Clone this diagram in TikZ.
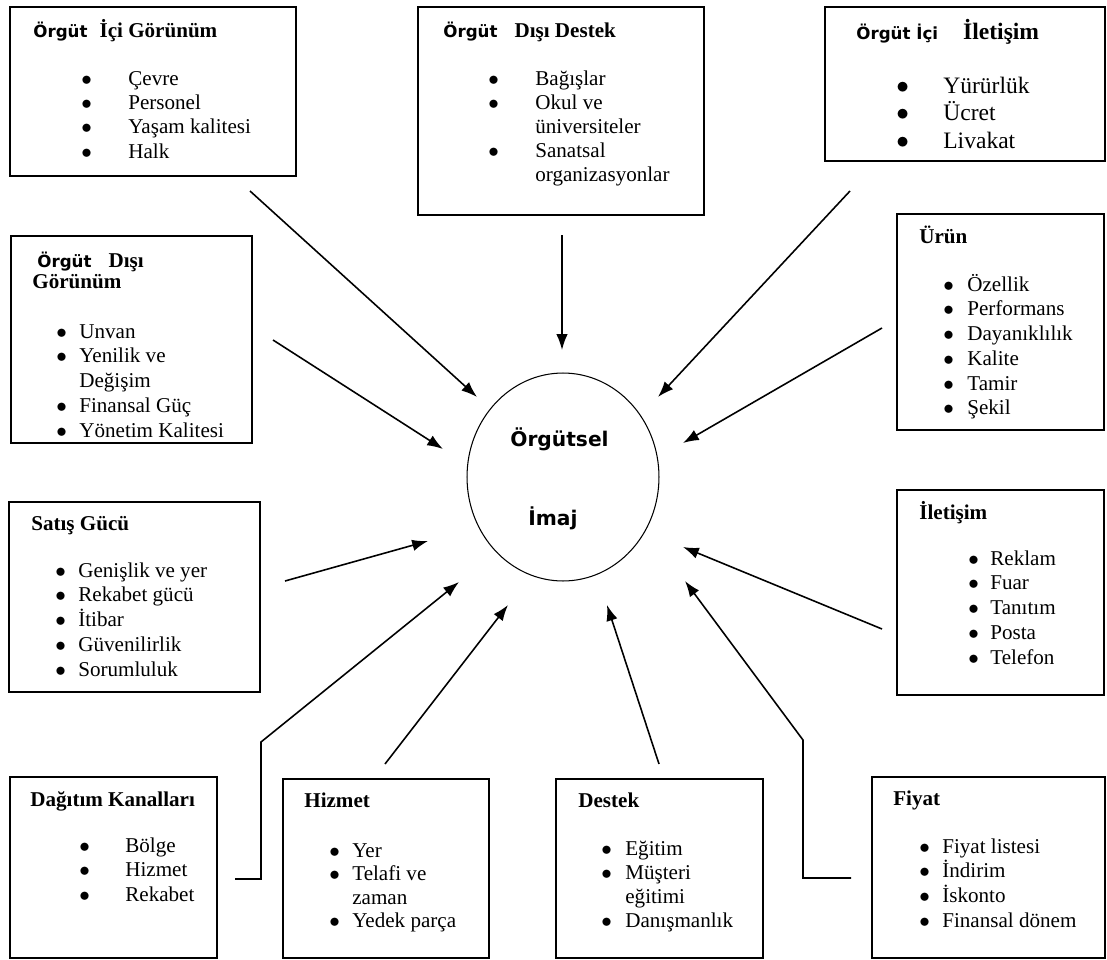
\documentclass[tikz,border=0pt]{standalone}
\usepackage{fontspec}
\setmainfont{Liberation Serif}
\newfontfamily\orgfont{DejaVu Sans}
\usepackage{tikz}
\usetikzlibrary{shapes.geometric, arrows.meta, positioning, fit}

\newcommand{\org}[1]{{\orgfont\bfseries\fontsize{9.5}{11}\selectfont #1}}
\newcommand{\blist}[2]{\begin{tabular}[t]{@{}p{#1}@{}l@{}}#2\end{tabular}}
\newcommand{\bl}{$\bullet$}

\begin{document}
\begin{tikzpicture}[x=0.02cm, y=-0.02cm,
        box/.style={draw, rectangle, line width=1.5pt, inner sep=0pt},
        head/.style={anchor=base west, inner sep=0pt, font=\bfseries\fontsize{12}{14}\selectfont},
        items/.style={anchor=base west, inner sep=0pt, font=\fontsize{12}{14.2}\selectfont},
        imgtxt/.style={anchor=base west, inner sep=0pt, font=\orgfont\bfseries\fontsize{11.5}{13}\selectfont},
        line/.style={draw, line width=0.9pt, -{Latex[length=9pt, width=6.5pt]}}]

        \useasboundingbox (0,0) rectangle (1107,960);

        % centre
        \node [draw, ellipse, line width=0.6pt, inner sep=0pt, minimum width=3.84cm, minimum height=4.16cm] (imaj) at (563,477) {};
        \node [imgtxt] (imajT1) at (510,446) {Örgütsel};
        \node [imgtxt] (imajT2) at (528,525) {İmaj};

        % top row
        \node [head] (icgorT) at (33,37) {\org{Örgüt}\hspace{0.24cm}İçi Görünüm};
        \node [items, font=\fontsize{12}{13.9}\selectfont] (icgorL) at (81,85) {\blist{0.94cm}{
            \bl & Çevre\\ \bl & Personel\\ \bl & Yaşam kalitesi\\ \bl & Halk}};
        \node [box, fit={(10,7) (296,176)}] (icgor) {};

        \node [head] (disdesT) at (443,37) {\org{Örgüt}\hspace{0.34cm}Dışı Destek};
        \node [items, font=\fontsize{12}{13.7}\selectfont] (disdesL) at (488,85) {\blist{0.94cm}{
            \bl & Bağışlar\\ \bl & Okul ve\\ & üniversiteler\\ \bl & Sanatsal\\ & organizasyonlar}};
        \node [box, fit={(418,7) (704,215)}] (disdes) {};

        \node [head, font=\bfseries\fontsize{13.4}{16}\selectfont] (iciletT) at (856,39) {\org{Örgüt İçi}\hspace{0.5cm}İletişim};
        \node [items, font=\fontsize{13.4}{15.9}\selectfont] (iciletL) at (896,93) {\blist{0.94cm}{
            \bl & Yürürlük\\ \bl & Ücret\\ \bl & Livakat}};
        \node [box, fit={(825,7) (1105,161)}] (icilet) {};

        % sides
        \node [head] (disgorT) at (37,267) {\org{Örgüt}\hspace{0.34cm}Dışı};
        \node [head] (disgorT2) at (32,288) {Görünüm};
        \node [items] (disgorL) at (56,338) {\blist{0.46cm}{
            \bl & Unvan\\ \bl & Yenilik ve\\ & Değişim\\ \bl & Finansal Güç\\ \bl & Yönetim Kalitesi}};
        \node [box, fit={(11,236) (252,443)}] (disgor) {};

        \node [head] (urunT) at (919,243) {Ürün};
        \node [items, font=\fontsize{12}{14.1}\selectfont] (urunL) at (943,291) {\blist{0.48cm}{
            \bl & Özellik\\ \bl & Performans\\ \bl & Dayanıklılık\\ \bl & Kalite\\ \bl & Tamir\\ \bl & Şekil}};
        \node [box, fit={(897,214) (1104,430)}] (urun) {};

        \node [head] (satisT) at (31,530) {Satış Gücü};
        \node [items] (satisL) at (55,577) {\blist{0.46cm}{
            \bl & Genişlik ve yer\\ \bl & Rekabet gücü\\ \bl & İtibar\\ \bl & Güvenilirlik\\ \bl & Sorumluluk}};
        \node [box, fit={(9,502) (260,692)}] (satis) {};

        \node [head] (iletT) at (919,519) {İletişim};
        \node [items] (iletL) at (968,565) {\blist{0.44cm}{
            \bl & Reklam\\ \bl & Fuar\\ \bl & Tanıtım\\ \bl & Posta\\ \bl & Telefon}};
        \node [box, fit={(897,490) (1104,695)}] (ilet) {};

        % bottom row
        \node [head] (dagT) at (30,806) {Dağıtım Kanalları};
        \node [items] (dagL) at (79,852) {\blist{0.92cm}{
            \bl & Bölge\\ \bl & Hizmet\\ \bl & Rekabet}};
        \node [box, fit={(10,777) (217,958)}] (dag) {};

        \node [head] (hizT) at (304,807) {Hizmet};
        \node [items, font=\fontsize{12}{13.4}\selectfont] (hizL) at (329,857) {\blist{0.46cm}{
            \bl & Yer\\ \bl & Telafi ve\\ & zaman\\ \bl & Yedek parça}};
        \node [box, fit={(283,779) (489,958)}] (hiz) {};

        \node [head] (destT) at (578,807) {Destek};
        \node [items, font=\fontsize{12}{13.8}\selectfont] (destL) at (601,855) {\blist{0.48cm}{
            \bl & Eğitim\\ \bl & Müşteri\\ & eğitimi\\ \bl & Danışmanlık}};
        \node [box, fit={(556,779) (763,958)}] (dest) {};

        \node [head] (fiyT) at (893,805) {Fiyat};
        \node [items, font=\fontsize{12}{14}\selectfont] (fiyL) at (919,853) {\blist{0.46cm}{
            \bl & Fiyat listesi\\ \bl & İndirim\\ \bl & İskonto\\ \bl & Finansal dönem}};
        \node [box, fit={(872,777) (1105,958)}] (fiy) {};

        % arrow ends
        \coordinate (icgorA) at (250,191);   \coordinate (icgorB) at (477,397);
        \coordinate (disdesA) at (562,235);  \coordinate (disdesB) at (562,350);
        \coordinate (iciletA) at (850,191);  \coordinate (iciletB) at (658,397);
        \coordinate (urunA) at (882,328);    \coordinate (urunB) at (683,443);
        \coordinate (disgorA) at (273,340);  \coordinate (disgorB) at (443,449);
        \coordinate (satisA) at (285,581);   \coordinate (satisB) at (428,541);
        \coordinate (iletA) at (882,629);    \coordinate (iletB) at (683,547);
        \coordinate (dagA) at (235,879);     \coordinate (dagK) at (261,742);   \coordinate (dagB) at (459,582);
        \coordinate (hizA) at (385,764);     \coordinate (hizB) at (508,605);
        \coordinate (destA) at (659,764);    \coordinate (destB) at (607,605);
        \coordinate (fiyA) at (851,878);     \coordinate (fiyK) at (803,740);   \coordinate (fiyB) at (685,581);

        % Paths
        \path [line] (icgorA) -- (icgorB);
        \path [line] (disdesA) -- (disdesB);
        \path [line] (iciletA) -- (iciletB);
        \path [line] (urunA) -- (urunB);
        \path [line] (disgorA) -- (disgorB);
        \path [line] (satisA) -- (satisB);
        \path [line] (iletA) -- (iletB);
        \path [line] (dagA) -| (dagK) -- (dagB);
        \path [line] (hizA) -- (hizB);
        \path [line] (destA) -- (destB);
        \path [line] (fiyA) -| (fiyK) -- (fiyB);

    \end{tikzpicture}
\end{document}
